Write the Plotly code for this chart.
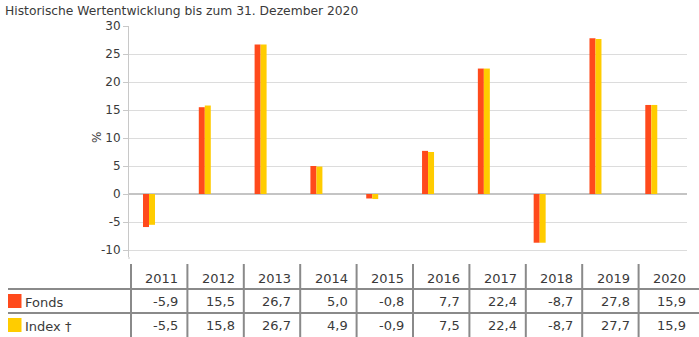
import plotly.graph_objects as go

# Calendar-year performance, in percent
years = ["2011", "2012", "2013", "2014", "2015", "2016", "2017", "2018", "2019", "2020"]
fonds = [-5.9, 15.5, 26.7, 5.0, -0.8, 7.7, 22.4, -8.7, 27.8, 15.9]
index = [-5.5, 15.8, 26.7, 4.9, -0.9, 7.5, 22.4, -8.7, 27.7, 15.9]
series_names = ["Fonds", "Index †"]
y_ticks = [-10, -5, 0, 5, 10, 15, 20, 25, 30]
y_tick_labels = [str(v) for v in y_ticks]

RED = "#FF4A1C"
YELLOW = "#FFCC00"
TEXT = "#3a3a3a"
FONT = "DejaVu Sans"

W, H = 699, 337
ML, MR, MT, MB = 129, 12, 26, 80
PW = W - ML - MR
PH = H - MT - MB


def px(xp):
    return (xp - ML) / PW


def py(yp):
    return (H - MB - yp) / PH


def fmt(v):
    return f"{v:.1f}".replace(".", ",")


xs = list(range(len(years)))

fig = go.Figure()
fig.add_trace(go.Bar(x=xs, y=fonds, name=series_names[0], marker=dict(color=RED, line=dict(width=0))))
fig.add_trace(go.Bar(x=xs, y=index, name=series_names[1], marker=dict(color=YELLOW, line=dict(width=0))))

fig.update_layout(
    width=W, height=H,
    margin=dict(l=ML, r=MR, t=MT, b=MB, pad=0),
    paper_bgcolor="white", plot_bgcolor="white",
    barmode="group", bargap=0.785, bargroupgap=0,
    showlegend=False,
    font=dict(family=FONT, color=TEXT, size=12),
)
fig.update_xaxes(range=[-0.358, 9.64], showgrid=False, showticklabels=False,
                 zeroline=False, showline=False, ticks="")
fig.update_yaxes(range=[-11.25, 30], tickvals=y_ticks, ticktext=y_tick_labels,
                 showgrid=True, gridcolor="#dcdcdc",
                 gridwidth=1, zeroline=True, zerolinecolor="#c4c4c4", zerolinewidth=2,
                 showline=True, linecolor="#c8c8c8", linewidth=1,
                 ticks="outside", ticklen=5, tickcolor="#c8c8c8",
                 tickfont=dict(size=12, color=TEXT, family=FONT))

ann = []
shapes = []

# Title
ann.append(dict(x=px(3), y=py(11), xref="paper", yref="paper", text="Historische Wertentwicklung bis zum 31. Dezember 2020",
                showarrow=False, xanchor="left", yanchor="middle", font=dict(size=12.3, color=TEXT, family=FONT)))
# Axis unit
ann.append(dict(x=px(97), y=py(138), xref="paper", yref="paper", text="%", textangle=-90,
                showarrow=False, xanchor="center", yanchor="middle", font=dict(size=12, color=TEXT, family=FONT)))

# Extend the y axis line a little below the plot area
shapes.append(dict(type="line", xref="paper", yref="paper", x0=0, x1=0, y0=py(257), y1=py(259),
                   line=dict(color="#c8c8c8", width=1)))

# Data table beneath the chart
col_x0 = 131
col_w = 56.4
row_header, row_fonds, row_index = 278, 301, 325
for k, yr in enumerate(years):
    left = col_x0 + k * col_w
    right = left + col_w
    shapes.append(dict(type="line", xref="paper", yref="paper", x0=px(left), x1=px(left),
                       y0=py(264), y1=py(337), line=dict(color="#8a8a8a", width=2)))
    ann.append(dict(x=px(right - 7), y=py(row_header), xref="paper", yref="paper", text=yr,
                    showarrow=False, xanchor="right", yanchor="middle", font=dict(size=13, color=TEXT, family=FONT)))
    ann.append(dict(x=px(right - 7), y=py(row_fonds), xref="paper", yref="paper", text=fmt(fonds[k]),
                    showarrow=False, xanchor="right", yanchor="middle", font=dict(size=13, color=TEXT, family=FONT)))
    ann.append(dict(x=px(right - 7), y=py(row_index), xref="paper", yref="paper", text=fmt(index[k]),
                    showarrow=False, xanchor="right", yanchor="middle", font=dict(size=13, color=TEXT, family=FONT)))

for yl in (289, 313):
    shapes.append(dict(type="line", xref="paper", yref="paper", x0=px(8), x1=px(699),
                       y0=py(yl), y1=py(yl), line=dict(color="#8a8a8a", width=2)))

# Row labels with colour keys
for name, color, yc in ((series_names[0], RED, row_fonds), (series_names[1], YELLOW, row_index)):
    shapes.append(dict(type="rect", xref="paper", yref="paper", x0=px(8), x1=px(21.5),
                       y0=py(yc + 7), y1=py(yc - 7), fillcolor=color, line=dict(width=0)))
    ann.append(dict(x=px(23), y=py(yc + 1), xref="paper", yref="paper", text=name,
                    showarrow=False, xanchor="left", yanchor="middle", font=dict(size=13, color=TEXT, family=FONT)))

fig.update_layout(annotations=ann, shapes=shapes)
fig.write_html("out.html")
